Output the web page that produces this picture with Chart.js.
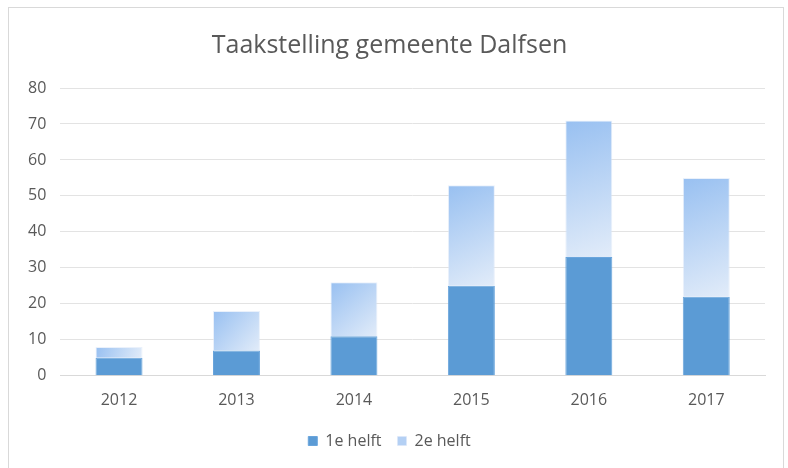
<!DOCTYPE html>
<html>
<head>
<meta charset="utf-8">
<script src="https://cdn.jsdelivr.net/npm/chart.js@4"></script>
<style>
    html, body { margin: 0; padding: 0; background: #fff; }
    #wrap { position: absolute; left: 0; top: 0; width: 788px; height: 468px; }
    #frame { position: absolute; left: 8px; top: 7px; width: 776px; height: 470px; border: 1px solid #d9d9d9; box-sizing: border-box; }
</style>
</head>
<body>
<div id="wrap">
    <div id="frame"></div>
    <canvas id="canvas" width="788" height="468"></canvas>
</div>
<script>
const years = ['2012', '2013', '2014', '2015', '2016', '2017'];
const firstHalf = [5, 7, 11, 25, 33, 22];
const secondHalf = [3, 11, 15, 28, 38, 33];
const yTicks = [0, 10, 20, 30, 40, 50, 60, 70, 80];

// gives every bar of the 2nd series its own diagonal gradient
const gradientBars = {
    id: 'gradientBars',
    beforeDatasetDraw(chart, args) {
        if (args.index !== 1) return;
        const ctx = chart.ctx;
        args.meta.data.forEach((bar) => {
            const left = bar.x - bar.width / 2;
            const right = bar.x + bar.width / 2;
            const g = ctx.createLinearGradient(left, bar.y, right, bar.base);
            g.addColorStop(0, '#98c0f1');
            g.addColorStop(1, '#e2ecf9');
            bar.options.backgroundColor = g;
        });
    },
};

Chart.defaults.font.family = "'Open Sans', 'Liberation Sans', sans-serif";
Chart.defaults.color = '#595959';

new Chart('canvas', {
    type: 'bar',
    data: {
        labels: years,
        datasets: [
            {
                label: '1e helft',
                data: firstHalf,
                backgroundColor: '#5b9bd5',
                borderColor: '#6aa5dc',
                borderWidth: 1,
            },
            {
                label: '2e helft',
                data: secondHalf,
                // scriptable so every bar keeps its own options object
                backgroundColor: () => '#b4d0f4',
                borderColor: 'rgba(220,232,248,0.6)',
                borderWidth: 1,
            },
        ],
    },
    plugins: [gradientBars],
    options: {
        responsive: false,
        animation: false,
        layout: { padding: { left: 14, right: 23, top: 23, bottom: 9 } },
        datasets: {
            bar: { categoryPercentage: 1, barPercentage: 0.4 },
        },
        scales: {
            x: {
                stacked: true,
                grid: { display: false },
                border: { color: '#d9d9d9' },
                ticks: { font: { size: 16 }, padding: 7 },
            },
            y: {
                stacked: true,
                min: 0,
                max: 80,
                afterBuildTicks: (axis) => { axis.ticks = yTicks.map((v) => ({ value: v })); },
                grid: { color: '#e3e3e3', drawTicks: false },
                border: { display: false },
                ticks: { font: { size: 16 }, padding: 14 },
            },
        },
        plugins: {
            title: {
                display: true,
                text: 'Taakstelling gemeente Dalfsen',
                font: { size: 25, weight: 'normal' },
                color: '#595959',
                padding: { top: 8, bottom: 27 },
            },
            legend: {
                position: 'bottom',
                labels: { boxWidth: 9, boxHeight: 9, font: { size: 16 }, padding: 16 },
            },
            tooltip: { enabled: false },
        },
    },
});
</script>
</body>
</html>
